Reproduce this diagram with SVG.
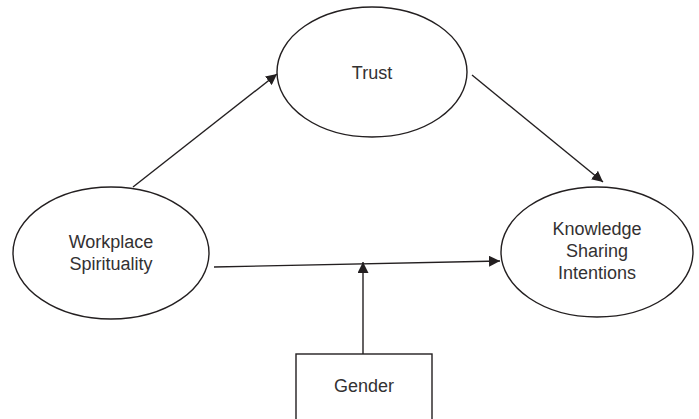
<svg xmlns="http://www.w3.org/2000/svg" width="699" height="419" viewBox="0 0 699 419">
<style>
.n{fill:#fff;stroke:#231f20;stroke-width:1.4}
.t{font-family:"Liberation Sans",Arial,sans-serif;font-size:18px;fill:#333132;text-anchor:middle}
.c{stroke:#231f20;stroke-width:1.4;fill:none;marker-end:url(#ah)}
</style>
<defs>
<marker id="ah" viewBox="0 0 10 10" refX="10" refY="5" markerWidth="11" markerHeight="11" markerUnits="userSpaceOnUse" orient="auto">
<path d="M0,0 L10,5 L0,10 Z" fill="#231f20"/>
</marker>
</defs>
<rect width="699" height="419" fill="#fff"/>
<g id="connectors">
<line class="c" x1="133" y1="187" x2="277" y2="74"/>
<line class="c" x1="472" y1="75" x2="603" y2="182"/>
<line class="c" x1="214" y1="267" x2="500" y2="261"/>
<line class="c" x1="363" y1="354" x2="363" y2="262"/>
</g>
<g id="trust">
<ellipse class="n" cx="372" cy="72" rx="95" ry="65"/>
<text class="t" x="372" y="79">Trust</text>
</g>
<g id="workplace-spirituality">
<ellipse class="n" cx="111" cy="253" rx="98" ry="66"/>
<text class="t" x="111" y="248">Workplace</text>
<text class="t" x="111" y="270">Spirituality</text>
</g>
<g id="knowledge-sharing-intentions">
<ellipse class="n" cx="597" cy="252" rx="96" ry="65"/>
<text class="t" x="597" y="235">Knowledge</text>
<text class="t" x="597" y="257">Sharing</text>
<text class="t" x="597" y="279">Intentions</text>
</g>
<g id="gender">
<rect class="n" x="296" y="354" width="136" height="80"/>
<text class="t" x="364" y="392">Gender</text>
</g>
</svg>
